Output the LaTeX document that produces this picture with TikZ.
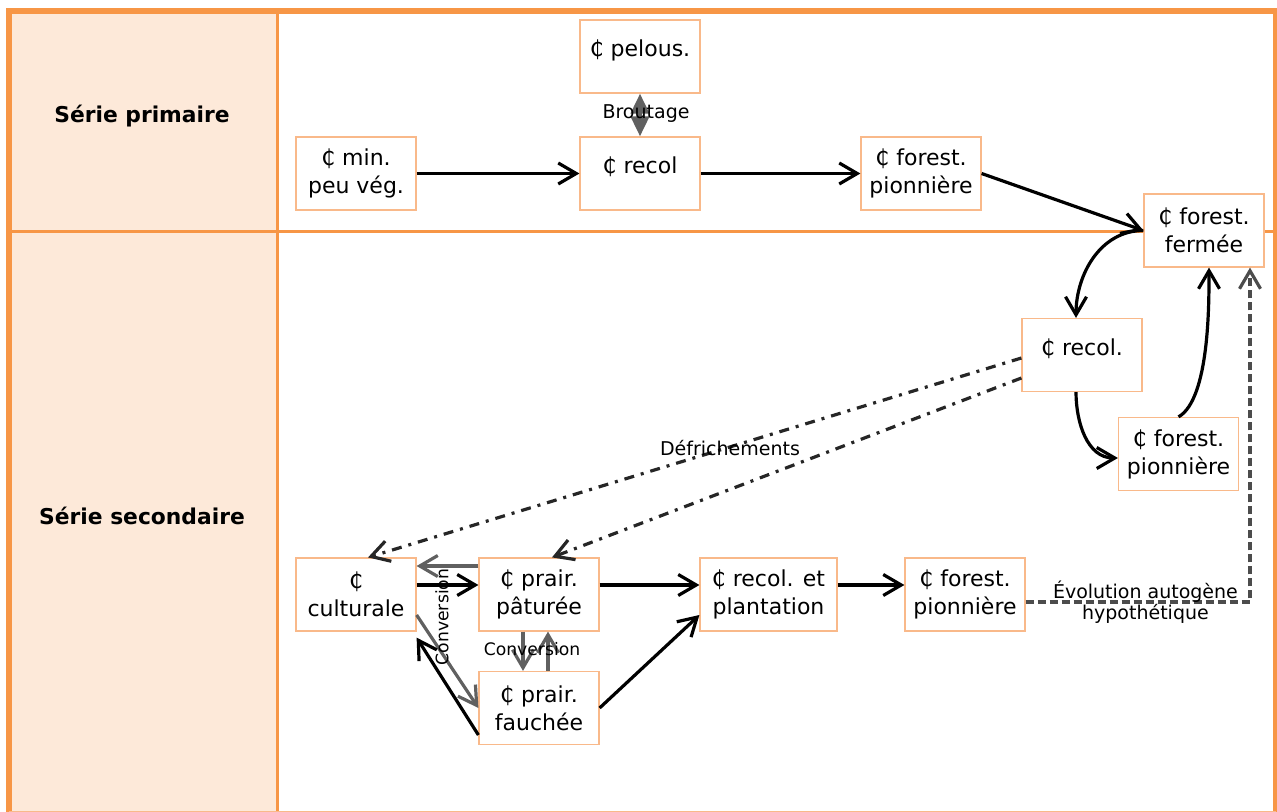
\documentclass[tikz,border=0pt]{standalone}
\usepackage{fontspec}
\setmainfont{DejaVu Sans}
\usetikzlibrary{arrows.meta}
\definecolor{cadre}{HTML}{F79646}
\definecolor{peche}{HTML}{FDE9D9}
\definecolor{bord}{HTML}{F9B98A}
\definecolor{gris}{HTML}{606060}

\begin{document}
\begin{tikzpicture}
  [x=0.5pt,y=-0.5pt,
   every node/.style={font=\fontsize{11}{14}\selectfont,align=center},
   etat/.style={draw=bord,line width=0.6pt,fill=white,minimum width=60pt,minimum height=36.5pt,inner sep=1pt},
   haut/.style={text height=8pt,text depth=8pt},
   serie/.style={font=\fontsize{10.9}{13}\selectfont\bfseries},
   lbl/.style={font=\fontsize{9.5}{10.5}\selectfont,inner sep=1pt,text=black},
   petit/.style={lbl,font=\fontsize{8.6}{10}\selectfont},
   flow/.style={line width=1.6pt,-{Straight Barb[length=9pt,width=10.5pt]}},
   conv/.style={flow,gris},
   broute/.style={line width=2pt,gris,{Triangle[length=10pt,width=9pt]}-{Triangle[length=10pt,width=9pt]}},
   defrich/.style={flow,black!85,dash pattern=on 5pt off 3.5pt on 1.5pt off 3.5pt},
   evol/.style={flow,black!70,dash pattern=on 4pt off 2pt}]
  \useasboundingbox (0,0) rectangle (1277,812);
  % cadre
  \fill[peche] (9,11) rectangle (277.5,813);
  \draw[cadre,line width=1.3pt] (277.5,11) -- (277.5,813);
  \draw[cadre,line width=1.3pt] (9,231.5) -- (1276,231.5);
  \draw[cadre,line width=2.8pt] (9,816) -- (9,11) -- (1276,11) -- (1276,816);
  \draw[bord,line width=0.5pt] (9,811.5) -- (1276,811.5);
  \node[serie] (prim) at (142,116) {Série primaire};
  \node[serie] (sec) at (142,516) {Série secondaire};
  % etats
  \node[etat,haut] (pelous) at (640,56.5) {₵ pelous.};
  \node[etat] (minveg) at (356,173.5) {₵ min.\\peu vég.};
  \node[etat,haut] (recol) at (640,173.5) {₵ recol};
  \node[etat] (forpio) at (921,173.5) {₵ forest.\\pionnière};
  \node[etat] (forferm) at (1204,230.5) {₵ forest.\\fermée};
  \node[etat,haut] (recolb) at (1082,355) {₵ recol.};
  \node[etat] (forpiob) at (1178.5,454) {₵ forest.\\pionnière};
  \node[etat] (cultur) at (356,594.5) {₵\\culturale};
  \node[etat] (patur) at (539,594.5) {₵ prair.\\pâturée};
  \node[etat] (fauch) at (539,708) {₵ prair.\\fauchée};
  \node[etat,minimum width=68.5pt] (plant) at (768.5,594.5) {₵ recol. et\\plantation};
  \node[etat] (forpioc) at (965,594.5) {₵ forest.\\pionnière};
  % broutage
  \draw[broute] (pelous) -- (recol);
  \node[lbl] (brout) at (646,114) {Broutage};
  \foreach \from/\to/\dy in {minveg.east/recol.west/0pt, recol.east/forpio.west/0pt,
      forpio.east/forferm.west/0pt, patur.east/plant.west/4.75pt, plant.east/forpioc.west/4.75pt}
    \draw[flow] ([yshift=\dy]\from) -- ([yshift=\dy]\to);
  \draw[flow] (fauch.east) -- ([yshift=-10.25pt]plant.west);
  % boucle forestiere
  \draw[flow] (forferm.west) to[out=180,in=90] ([xshift=-3pt]recolb.north);
  \draw[flow] ([xshift=-3pt]recolb.south) to[out=-90,in=180] ([yshift=-2pt]forpiob.west);
  \draw[flow] (forpiob.north) to[out=30,in=-90,looseness=0.6] ([xshift=2.5pt]forferm.south);
  % defrichements
  \draw[defrich] ([yshift=-1.5pt]recolb.west) -- ([xshift=6pt]cultur.north);
  \draw[defrich] ([yshift=-11.5pt]recolb.west) -- ([xshift=6.5pt]patur.north);
  \node[lbl] (defr) at (730,448) {Défrichements};
  % conversions
  \draw[conv] ([yshift=14.25pt]patur.west) -- ([yshift=14.25pt]cultur.east);
  \draw[conv,black] ([yshift=4.75pt]cultur.east) -- ([yshift=4.75pt]patur.west);
  \draw[conv] ([yshift=-10.25pt]cultur.east) -- (fauch.west);
  \draw[conv,black] ([yshift=-13.5pt]fauch.west) -- ([yshift=-3pt]cultur.south east);
  \draw[conv] ([xshift=-8pt]patur.south) -- ([xshift=-8pt]fauch.north);
  \draw[conv] ([xshift=4.5pt]fauch.north) -- ([xshift=4.5pt]patur.south);
  \node[petit,rotate=90] (convg) at (442,617) {Conversion};
  \node[petit] (convd) at (532,649) {Conversion};
  % evolution
  \draw[evol] ([yshift=-3.75pt]forpioc.east) -| ([xshift=23pt]forferm.south)
    node[lbl,pos=0.267] (evo) {Évolution autogène\\hypothétique};
\end{tikzpicture}
\end{document}
